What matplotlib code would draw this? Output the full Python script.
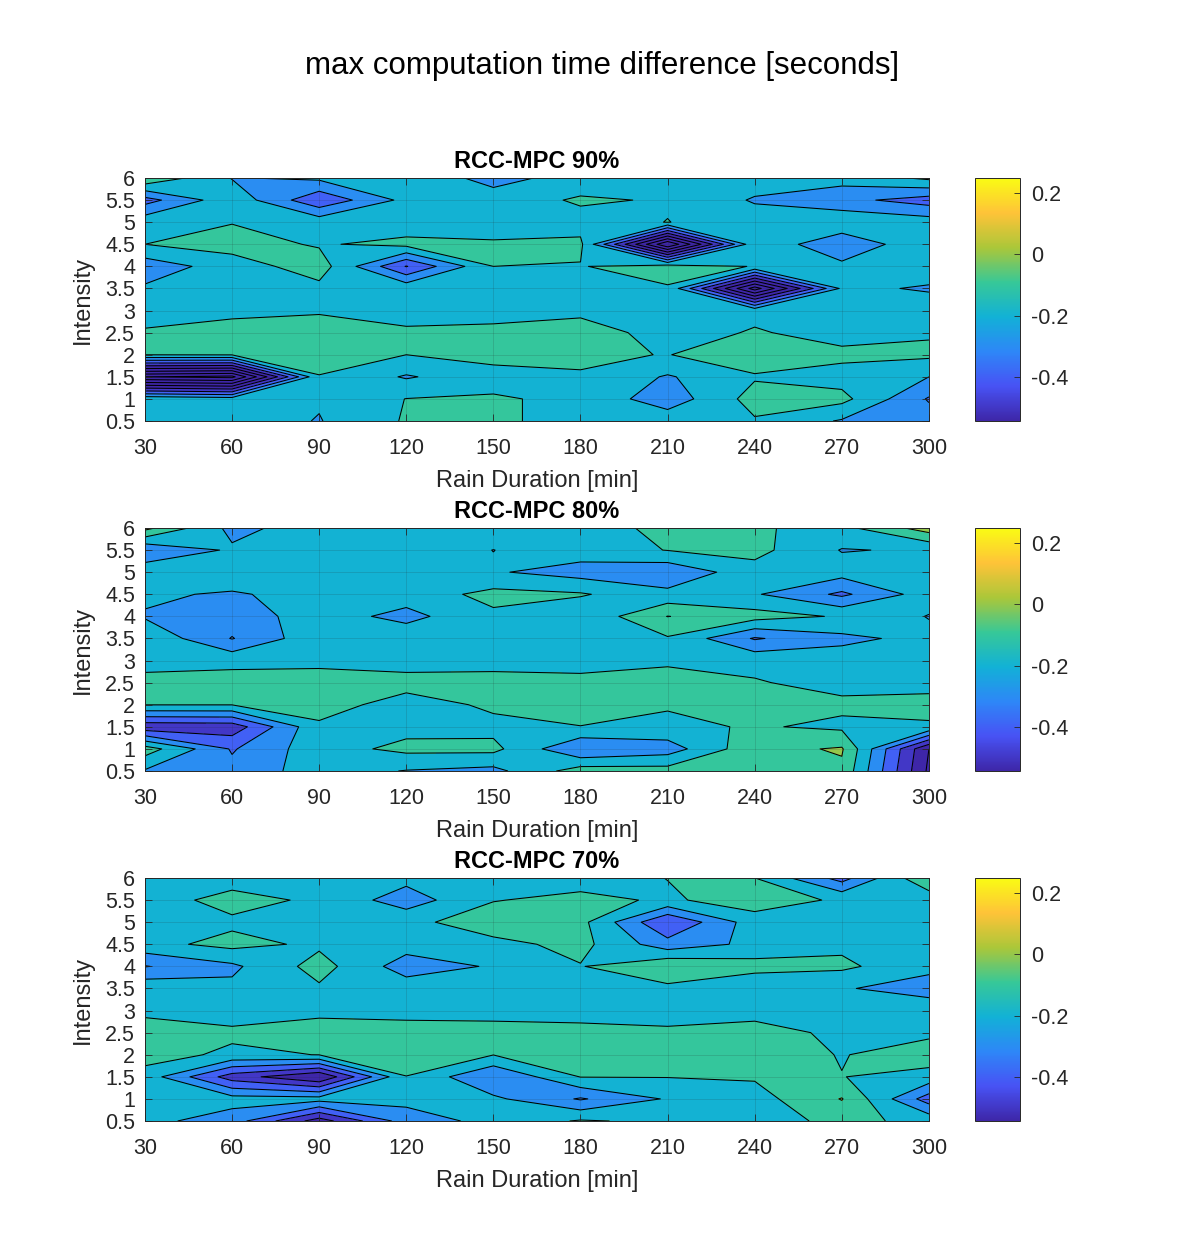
import numpy as np
import matplotlib.pyplot as plt
from matplotlib.colors import LinearSegmentedColormap, Normalize
from matplotlib.cm import ScalarMappable

plt.rcParams['font.family'] = ['Liberation Sans', 'DejaVu Sans']

# grid of the runs
rain_duration = [30, 60, 90, 120, 150, 180, 210, 240, 270, 300]
intensity = [6, 5.5, 5, 4.5, 4, 3.5, 3, 2.5, 2, 1.5, 1, 0.5]  # rows below, top to bottom

# max computation time difference [s], one row per intensity
diff_90 = [
    [-0.01, -0.205, -0.18, -0.14, -0.23, -0.165, -0.15, -0.15, -0.16, -0.08],
    [-0.34, -0.13, -0.38, -0.17, -0.16, -0.085, -0.11, -0.21, -0.27, -0.347],
    [-0.135, -0.104, -0.14, -0.16, -0.14, -0.14, -0.098, -0.15, -0.12, -0.15],
    [-0.10, -0.06, -0.11, -0.07, -0.09, -0.08, -0.90, -0.12, -0.28, -0.12],
    [-0.26, -0.149, -0.05, -0.405, -0.10, -0.105, -0.05, -0.105, -0.175, -0.15],
    [-0.185, -0.15, -0.127, -0.13, -0.15, -0.15, -0.11, -0.85, -0.18, -0.21],
    [-0.15, -0.15, -0.11, -0.15, -0.15, -0.13, -0.15, -0.13, -0.15, -0.15],
    [-0.0875, -0.018, -0.054, -0.08, -0.067, -0.04, -0.15, -0.09, -0.14, -0.11],
    [-0.098, -0.095, -0.05, -0.10, -0.07, -0.085, -0.103, -0.04, -0.075, -0.08],
    [-0.90, -0.93, -0.105, -0.21, -0.135, -0.107, -0.21, -0.11, -0.14, -0.20],
    [-0.12, -0.15, -0.19, -0.098, -0.09, -0.12, -0.26, -0.06, -0.07, -0.31],
    [-0.15, -0.15, -0.205, -0.09, -0.08, -0.14, -0.135, -0.11, -0.21, -0.25],
]

diff_80 = [
    [0.03, -0.23, -0.15, -0.15, -0.15, -0.168, -0.06, -0.09, -0.13, 0.05],
    [-0.29, -0.185, -0.15, -0.15, -0.201, -0.15, -0.097, -0.07, -0.205, -0.19],
    [-0.13, -0.11, -0.15, -0.15, -0.19, -0.243, -0.28, -0.138, -0.158, -0.15],
    [-0.18, -0.215, -0.15, -0.155, -0.07, -0.09, -0.17, -0.19, -0.32, -0.15],
    [-0.21, -0.25, -0.155, -0.23, -0.12, -0.18, 0.002, -0.06, -0.11, -0.205],
    [-0.12, -0.305, -0.13, -0.136, -0.15, -0.15, -0.11, -0.31, -0.225, -0.17],
    [-0.15, -0.13, -0.15, -0.15, -0.15, -0.15, -0.12, -0.127, -0.15, -0.15],
    [-0.057, -0.057, -0.011, -0.057, -0.05, -0.064, -0.049, -0.093, -0.13, -0.13],
    [-0.098, -0.098, -0.05, -0.15, -0.08, -0.06, -0.09, -0.06, -0.08, -0.07],
    [-0.47, -0.46, -0.12, -0.13, -0.13, -0.102, -0.125, -0.09, -0.12, -0.112],
    [-0.05, -0.31, -0.14, -0.075, -0.073, -0.30, -0.25, -0.03, 0.01, -0.60],
    [-0.21, -0.27, -0.15, -0.205, -0.23, -0.05, -0.058, -0.06, -0.02, -0.62],
]

diff_70 = [
    [-0.15, -0.149, -0.15, -0.17, -0.15, -0.149, -0.098, -0.099, -0.34, -0.005],
    [-0.153, -0.06, -0.12, -0.25, -0.105, -0.07, -0.115, -0.05, -0.115, -0.17],
    [-0.15, -0.12, -0.15, -0.13, -0.04, -0.07, -0.40, -0.146, -0.15, -0.15],
    [-0.13, -0.07, -0.118, -0.157, -0.13, -0.07, -0.26, -0.175, -0.12, -0.15],
    [-0.305, -0.22, -0.06, -0.25, -0.19, -0.105, -0.01, -0.06, -0.08, -0.17],
    [-0.124, -0.178, -0.114, -0.146, -0.15, -0.15, -0.125, -0.19, -0.19, -0.25],
    [-0.12, -0.15, -0.12, -0.15, -0.15, -0.15, -0.15, -0.15, -0.15, -0.13],
    [-0.0575, -0.08, -0.062, -0.036, -0.046, -0.061, -0.08, -0.046, -0.13, -0.12],
    [-0.06, -0.12, -0.098, -0.05, -0.098, -0.05, -0.05, -0.05, -0.105, -0.05],
    [-0.14, -0.45, -0.60, -0.102, -0.30, -0.097, -0.097, -0.09, -0.098, -0.136],
    [-0.15, -0.16, -0.16, -0.17, -0.18, -0.31, -0.19, -0.14, 0.005, -0.35],
    [-0.17, -0.25, -0.55, -0.25, -0.17, -0.09, -0.12, -0.15, -0.07, -0.13],
]

panel_titles = ["RCC-MPC 90%", "RCC-MPC 80%", "RCC-MPC 70%"]
cbar_ticks = [-0.4, -0.2, 0, 0.2]

# parula-like colormap
parula = LinearSegmentedColormap.from_list("parula", [
    (0.2422, 0.1504, 0.6603), (0.2810, 0.3228, 0.9579), (0.1786, 0.5289, 0.9682),
    (0.0689, 0.6948, 0.8394), (0.2161, 0.7843, 0.5923), (0.6720, 0.7793, 0.2227),
    (0.9970, 0.7659, 0.2199), (0.9769, 0.9839, 0.0805)])
norm = Normalize(vmin=-0.545, vmax=0.25, clip=True)
levels = np.round(np.arange(-1.2, 0.31, 0.1), 2)
# matlab colours each band with its lower level
fill_colors = [parula(norm(l)) for l in levels[:-1]]

dark = '#262626'
fig = plt.figure(figsize=(11.96, 12.5), dpi=100)
fig.text(0.503, 0.9475, "max computation time difference [seconds]",
         ha='center', va='center', fontsize=22.5, color='k')

bottoms = [0.6632, 0.3832, 0.1032]
y_asc = intensity[::-1]
for title, data, b in zip(panel_titles, [diff_90, diff_80, diff_70], bottoms):
    z = np.flipud(np.array(data))
    ax = fig.add_axes([0.1212, b, 0.6555, 0.1944])
    ax.contourf(rain_duration, y_asc, z, levels=levels, colors=fill_colors)
    ax.contour(rain_duration, y_asc, z, levels=levels, colors='k',
               linewidths=0.75, linestyles='solid')
    ax.set_xlim(30, 300)
    ax.set_ylim(0.5, 6)
    ax.set_xticks(rain_duration)
    ax.set_yticks(y_asc)
    ax.set_yticklabels([f"{v:g}" for v in y_asc])
    ax.tick_params(direction='in', top=True, right=True, length=5, width=0.6,
                   labelsize=15.5, colors=dark, pad=7)
    ax.tick_params(axis='x', pad=12)
    ax.grid(True, color=dark, alpha=0.15, linewidth=0.7)
    ax.set_axisbelow(False)
    for s in ax.spines.values():
        s.set_color(dark)
        s.set_linewidth(0.7)
    ax.set_title(title, fontsize=17, fontweight='bold', pad=7)
    ax.set_xlabel("Rain Duration [min]", fontsize=17, color=dark, labelpad=8)
    ax.set_ylabel("Intensity", fontsize=17, color=dark, labelpad=8)

    cax = fig.add_axes([0.8152, b, 0.0376, 0.1944])
    sm = ScalarMappable(norm=norm, cmap=parula)
    cb = fig.colorbar(sm, cax=cax, ticks=cbar_ticks)
    cb.ax.set_yticklabels([f"{t:g}" for t in cbar_ticks])
    cb.ax.tick_params(direction='in', length=4, width=0.6, labelsize=15.5,
                      colors=dark, pad=8)
    cb.outline.set_edgecolor(dark)
    cb.outline.set_linewidth(0.7)

fig.savefig("out.png", dpi=100)
